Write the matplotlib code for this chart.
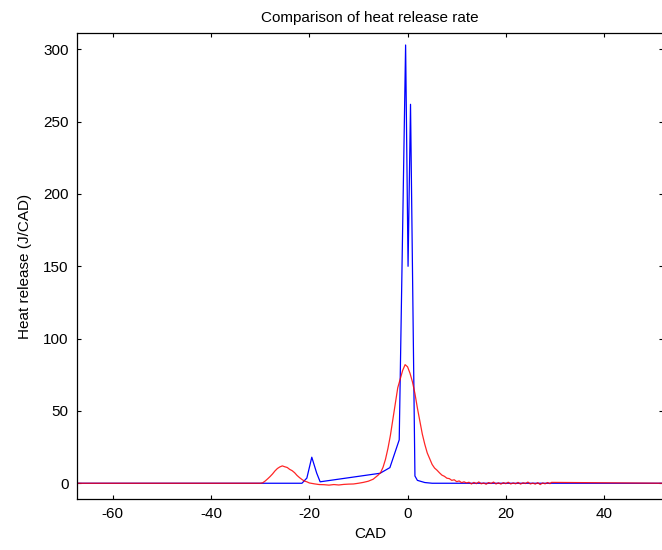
import numpy as np
import matplotlib
matplotlib.use('Agg')
import matplotlib.pyplot as plt

plt.rcParams['font.family'] = ['Liberation Sans', 'DejaVu Sans']
plt.rcParams['axes.unicode_minus'] = False

# measured heat release (red)
red_x = [-67.3, -30.0, -29.5, -29.0, -28.5, -28.0, -27.5, -27.0, -26.5, -26.0,
         -25.5, -25.0, -24.5, -24.0, -23.5, -23.0, -22.5, -22.0, -21.5, -21.0,
         -20.5, -20.0, -19.0, -18.0, -17.0, -16.0, -15.0, -14.0, -13.0, -12.0,
         -11.0, -10.0, -9.0, -8.0, -7.0, -6.5, -6.0, -5.5, -5.0, -4.5,
         -4.0, -3.5, -3.0, -2.5, -2.0, -1.5, -1.0, -0.5, 0.0, 0.5,
         1.0, 1.5, 2.0, 2.5, 3.0, 3.5, 4.0, 4.5, 5.0, 5.5,
         6.0, 6.5, 7.0, 7.5, 8.0, 8.5, 9.0, 9.5, 10.0, 10.5,
         11.0, 11.5, 12.0, 12.5, 13.0, 13.5, 14.0, 14.5, 15.0, 15.5,
         16.0, 16.5, 17.0, 17.5, 18.0, 18.5, 19.0, 19.5, 20.0, 20.5,
         21.0, 21.5, 22.0, 22.5, 23.0, 23.5, 24.0, 24.5, 25.0, 25.5,
         26.0, 26.5, 27.0, 27.5, 28.0, 28.5, 29.0, 29.3, 52.0]
red_y = [0.0, 0.0, 0.3, 1.5, 3.0, 4.6, 6.4, 8.5, 10.2, 11.3,
         12.0, 11.4, 10.9, 9.6, 8.7, 7.3, 5.4, 3.9, 2.6, 1.5,
         1.0, 0.2, -0.4, -0.9, -1.0, -1.3, -0.9, -1.2, -0.8, -0.6,
         -0.5, 0.0, 0.6, 1.4, 2.8, 4.2, 5.6, 7.3, 11.0, 16.5,
         24.0, 33.0, 44.0, 55.0, 66.0, 72.0, 78.0, 82.0, 80.5, 76.0,
         70.0, 62.0, 52.0, 43.0, 34.0, 27.0, 21.0, 17.0, 13.0, 10.5,
         9.0, 7.2, 5.6, 4.8, 3.5, 3.2, 2.0, 2.4, 1.1, 1.6,
         0.4, 1.0, 0.2, 0.7, -0.5, 0.6, -0.3, 0.9, -0.4, 0.2,
         -0.7, 0.5, -0.2, 0.8, -0.5, 0.3, -0.6, 0.4, -0.3, 0.7,
         -0.5, 0.2, -0.4, 0.6, -0.6, 0.3, -0.2, 0.8, -0.5, 0.1,
         -0.6, 0.4, -0.9, 0.2, -0.4, 0.5, -0.3, 0.6, 0.0]

# simulated heat release (blue)
blue_x = [-67.3, -21.5, -20.5, -19.5, -18.5, -17.8, -5.6, -3.6, -1.7, -0.4,
          0.1, 0.6, 1.5, 2.0, 3.5, 5.0, 52.0]
blue_y = [0.0, 0.0, 3.6, 18.0, 7.0, 1.0, 6.9, 10.8, 30.0, 303.0,
          150.0, 262.0, 5.0, 2.0, 0.5, 0.0, 0.0]

x_ticks = [-60, -40, -20, 0, 20, 40]
y_ticks = [0, 50, 100, 150, 200, 250, 300]

fig = plt.figure(figsize=(6.62, 5.5), dpi=100)
ax = fig.add_axes([0.1163, 0.0927, 0.8852, 0.8473])

ax.plot(blue_x, blue_y, color='#0000ff', lw=0.9)
ax.plot(red_x, red_y, color='#ff0000', lw=0.9, alpha=0.85)

ax.set_xlim(-67.3, 52.0)
ax.set_ylim(-10.9, 311.3)
ax.set_xticks(x_ticks)
ax.set_yticks(y_ticks)
ax.tick_params(direction='in', length=3, width=0.8, top=True, right=True,
               labelsize=11, pad=6)
for s in ax.spines.values():
    s.set_linewidth(0.9)

ax.set_title('Comparison of heat release rate', fontsize=11, pad=8)
ax.set_xlabel('CAD', fontsize=11, labelpad=4)
ax.set_ylabel('Heat release (J/CAD)', fontsize=11, labelpad=8)

fig.savefig('out.png', dpi=100)
